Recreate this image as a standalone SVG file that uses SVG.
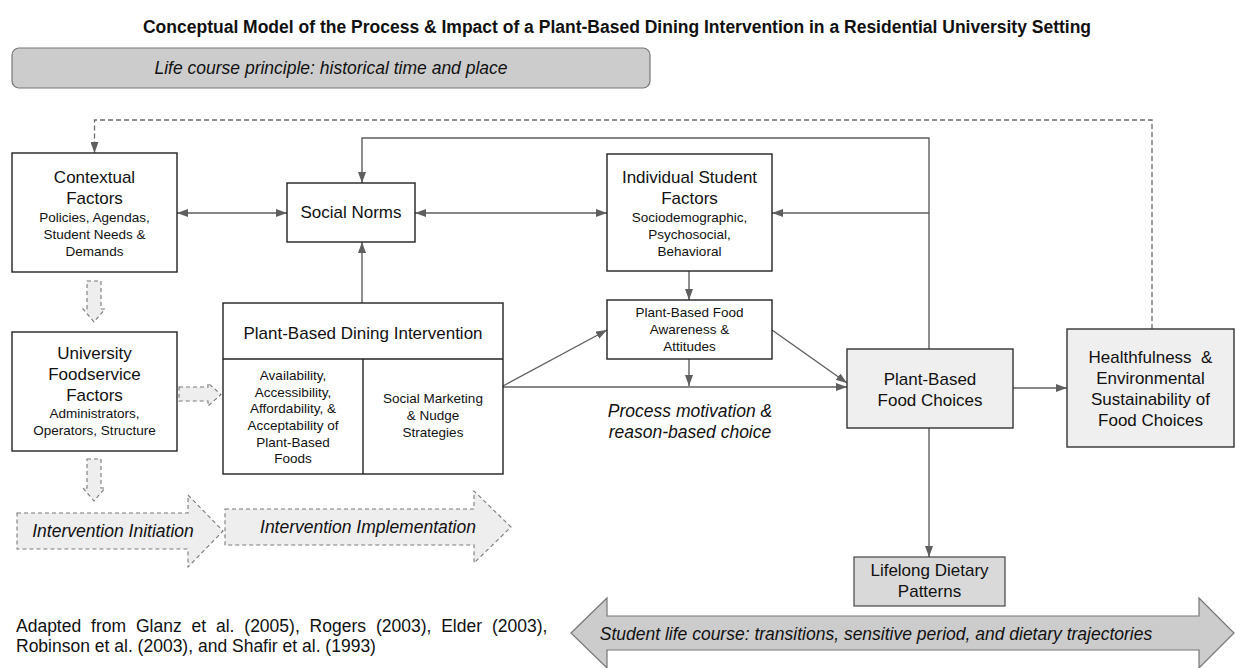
<svg xmlns="http://www.w3.org/2000/svg" width="1236" height="668" viewBox="0 0 1236 668">
  <defs>
    <style>
      text { font-family: "Liberation Sans", Arial, sans-serif; fill: #111; }
      .title { font-size: 17.5px; font-weight: bold; text-anchor: middle; }
      .lg { font-size: 17px; text-anchor: middle; }
      .sm { font-size: 13.5px; text-anchor: middle; }
      .it { font-size: 17.5px; font-style: italic; text-anchor: middle; }
      .note { font-size: 17.5px; }
      .box { fill: #ffffff; stroke: #222; stroke-width: 1.4; }
      .box-lt { fill: #efefef; stroke: #333; stroke-width: 1.4; }
      .box-md { fill: #d9d9d9; stroke: #444; stroke-width: 1.2; }
      .conn { fill: none; stroke: #5f5f5f; stroke-width: 1.4; }
      .dash { fill: none; stroke: #6a6a6a; stroke-width: 1.3; stroke-dasharray: 5 3; }
      .fat { fill: #eeeeee; stroke: #7a7a7a; stroke-width: 1.1; stroke-dasharray: 4 3; }
      .band { fill: #cccccc; stroke: #777; stroke-width: 1.2; }
    </style>
    <marker id="arr" viewBox="0 0 11 8" refX="11" refY="4" markerWidth="11" markerHeight="8" markerUnits="userSpaceOnUse" orient="auto-start-reverse">
      <path d="M0,0 L11,4 L0,8 z" fill="#5f5f5f"/>
    </marker>
  </defs>

  <rect width="1236" height="668" fill="#ffffff"/>

  <text class="title" x="617" y="33">Conceptual Model of the Process &amp; Impact of a Plant-Based Dining Intervention in a Residential University Setting</text>

  <!-- historical time banner -->
  <g id="life-course-principle">
    <rect class="band" x="12" y="48" width="638" height="40" rx="7"/>
    <text class="it" x="331" y="74">Life course principle: historical time and place</text>
  </g>

  <!-- connectors -->
  <g id="connectors">
    <path class="dash" d="M1152,329 V120 H94.5 V153" marker-end="url(#arr)"/>
    <path class="conn" d="M929,349 V138 H362 V183" marker-end="url(#arr)"/>
    <path class="conn" d="M929,213 H772" marker-end="url(#arr)"/>
    <path class="conn" d="M177,213 H287" marker-start="url(#arr)" marker-end="url(#arr)"/>
    <path class="conn" d="M415,213 H607" marker-start="url(#arr)" marker-end="url(#arr)"/>
    <path class="conn" d="M362,303 V242" marker-end="url(#arr)"/>
    <path class="conn" d="M689,271 V300" marker-end="url(#arr)"/>
    <path class="conn" d="M689,359 V386" marker-end="url(#arr)"/>
    <path class="conn" d="M503,386 L607,330" marker-end="url(#arr)"/>
    <path class="conn" d="M503,387 H847" marker-end="url(#arr)"/>
    <path class="conn" d="M772,330 L847,383" marker-end="url(#arr)"/>
    <path class="conn" d="M1013,388 H1067" marker-end="url(#arr)"/>
    <path class="conn" d="M929,428 V557" marker-end="url(#arr)"/>
    <!-- hollow dashed block arrows -->
    <path class="fat" d="M87,281 H101 V309 H105 L94,322 L83,309 H87 Z"/>
    <path class="fat" d="M87,459 H101 V488 H105 L94,501 L83,488 H87 Z"/>
    <path class="fat" d="M179,387 H208 V383 L221,394.5 L208,406 V401 H179 Z"/>
  </g>

  <g id="contextual-factors">
    <rect class="box" x="12" y="153" width="165" height="119"/>
    <text class="lg" x="94.5" y="183">Contextual</text>
    <text class="lg" x="94.5" y="204">Factors</text>
    <text class="sm" x="94.5" y="222">Policies, Agendas,</text>
    <text class="sm" x="94.5" y="239">Student Needs &amp;</text>
    <text class="sm" x="94.5" y="256">Demands</text>
  </g>

  <g id="university-foodservice-factors">
    <rect class="box" x="12" y="332" width="165" height="119"/>
    <text class="lg" x="94.5" y="359">University</text>
    <text class="lg" x="94.5" y="380">Foodservice</text>
    <text class="lg" x="94.5" y="401">Factors</text>
    <text class="sm" x="94.5" y="418">Administrators,</text>
    <text class="sm" x="94.5" y="435">Operators, Structure</text>
  </g>

  <g id="social-norms">
    <rect class="box" x="287" y="183" width="128" height="59"/>
    <text class="lg" x="351" y="218">Social Norms</text>
  </g>

  <g id="plant-based-dining-intervention">
    <rect class="box" x="223" y="303" width="280" height="171"/>
    <line x1="223" y1="359" x2="503" y2="359" stroke="#222" stroke-width="1.4"/>
    <line x1="363" y1="359" x2="363" y2="474" stroke="#222" stroke-width="1.4"/>
    <text class="lg" x="363" y="339">Plant-Based Dining Intervention</text>
    <text class="sm" x="293" y="380">Availability,</text>
    <text class="sm" x="293" y="397">Accessibility,</text>
    <text class="sm" x="293" y="413">Affordability, &amp;</text>
    <text class="sm" x="293" y="430">Acceptability of</text>
    <text class="sm" x="293" y="447">Plant-Based</text>
    <text class="sm" x="293" y="463">Foods</text>
    <text class="sm" x="433" y="403">Social Marketing</text>
    <text class="sm" x="433" y="420">&amp; Nudge</text>
    <text class="sm" x="433" y="437">Strategies</text>
  </g>

  <g id="individual-student-factors">
    <rect class="box" x="607" y="154" width="165" height="117"/>
    <text class="lg" x="689.5" y="183">Individual Student</text>
    <text class="lg" x="689.5" y="204">Factors</text>
    <text class="sm" x="689.5" y="222">Sociodemographic,</text>
    <text class="sm" x="689.5" y="239">Psychosocial,</text>
    <text class="sm" x="689.5" y="256">Behavioral</text>
  </g>

  <g id="awareness-attitudes">
    <rect class="box" x="607" y="300" width="165" height="59"/>
    <text class="sm" x="689.5" y="317">Plant-Based Food</text>
    <text class="sm" x="689.5" y="334">Awareness &amp;</text>
    <text class="sm" x="689.5" y="351">Attitudes</text>
  </g>

  <g id="process-motivation">
    <text class="it" x="690" y="417">Process motivation &amp;</text>
    <text class="it" x="690" y="438">reason-based choice</text>
  </g>

  <g id="plant-based-food-choices">
    <rect class="box-lt" x="847" y="349" width="166" height="79"/>
    <text class="lg" x="930" y="385">Plant-Based</text>
    <text class="lg" x="930" y="406">Food Choices</text>
  </g>

  <g id="healthfulness-sustainability">
    <rect class="box-lt" x="1067" y="329" width="167" height="118"/>
    <text class="lg" x="1150.5" y="363" style="white-space:pre">Healthfulness  &amp;</text>
    <text class="lg" x="1150.5" y="384">Environmental</text>
    <text class="lg" x="1150.5" y="405">Sustainability of</text>
    <text class="lg" x="1150.5" y="426">Food Choices</text>
  </g>

  <g id="lifelong-dietary-patterns">
    <rect class="box-md" x="854" y="557" width="151" height="49"/>
    <text class="lg" x="929.5" y="576">Lifelong Dietary</text>
    <text class="lg" x="929.5" y="597">Patterns</text>
  </g>

  <g id="intervention-initiation">
    <path class="fat" d="M17,513 H188 V495 L223,531 L188,567 V549 H17 Z"/>
    <text class="it" x="113" y="537">Intervention Initiation</text>
  </g>

  <g id="intervention-implementation">
    <path class="fat" d="M225,509 H474 V491 L511,527 L474,563 V545 H225 Z"/>
    <text class="it" x="368" y="533">Intervention Implementation</text>
  </g>

  <g id="student-life-course">
    <path class="band" d="M571,633 L607,598 V616 H1199 V598 L1234,633 L1199,668 V650 H607 V668 Z"/>
    <text class="it" x="876" y="640">Student life course: transitions, sensitive period, and dietary trajectories</text>
  </g>

  <g id="sources">
    <text class="note" x="16" y="632" word-spacing="5">Adapted from Glanz et al. (2005), Rogers (2003), Elder (2003),</text>
    <text class="note" x="16" y="652">Robinson et al. (2003), and Shafir et al. (1993)</text>
  </g>
</svg>
